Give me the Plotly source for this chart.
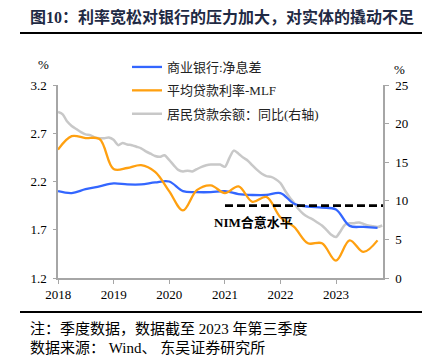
import calendar
import plotly.graph_objects as go

# ---------------- data ----------------
# quarter-end observations, 2017Q4 .. 2023Q3
quarter_labels = ["2017Q4",
                  "2018Q1", "2018Q2", "2018Q3", "2018Q4",
                  "2019Q1", "2019Q2", "2019Q3", "2019Q4",
                  "2020Q1", "2020Q2", "2020Q3", "2020Q4",
                  "2021Q1", "2021Q2", "2021Q3", "2021Q4",
                  "2022Q1", "2022Q2", "2022Q3", "2022Q4",
                  "2023Q1", "2023Q2", "2023Q3"]
nim = [2.10,
       2.08, 2.12, 2.15, 2.18,
       2.17, 2.17, 2.19, 2.20,
       2.10, 2.09, 2.09, 2.10,
       2.07, 2.06, 2.06, 2.08,
       1.97, 1.94, 1.93, 1.91,
       1.74, 1.73, 1.72]
loan_rate_minus_mlf = [2.53,
                       2.67, 2.65, 2.64, 2.33,
                       2.34, 2.37, 2.30, 2.10,
                       1.90, 2.11, 2.16, 2.08,
                       2.15, 1.99, 2.04, 1.83,
                       1.73, 1.56, 1.56, 1.38,
                       1.59, 1.47, 1.59]

# monthly household loan growth (yoy, %), Dec-2017 .. Oct-2023
household_loan_yoy = [21.5, 21.2, 20.3, 19.7, 19.3, 18.9, 18.6, 18.5, 18.2, 18.1,
                      18.1, 18.2, 17.9, 17.2, 17.5, 17.3, 17.2, 17.0, 16.8, 16.4,
                      16.1, 15.8, 15.7, 15.9, 15.3, 14.6, 14.0, 13.8, 13.9, 13.8,
                      14.1, 14.4, 14.6, 14.7, 14.7, 14.7, 14.4, 15.6, 16.5, 16.1,
                      15.6, 15.2, 14.6, 14.0, 13.5, 13.2, 13.1, 12.8, 12.3, 11.3,
                      10.5, 9.7, 8.9, 8.3, 7.9, 7.6, 7.2, 6.8, 6.2, 5.6,
                      5.3, 6.1, 6.9, 7.1, 7.1, 7.2, 7.0, 6.8, 6.7, 6.6,
                      6.8]

nim_comfort_level = 1.95
nim_comfort_span = ["2021-01-01", "2023-11-05"]

year_ticks = [2018, 2019, 2020, 2021, 2022, 2023]
left_ticks = [1.2, 1.7, 2.2, 2.7, 3.2]
right_ticks = [0, 5, 10, 15, 20, 25]


def month_end(y, m):
    return f"{y:04d}-{m:02d}-{calendar.monthrange(y, m)[1]:02d}"


months = []
y, m = 2017, 12
for _ in household_loan_yoy:
    months.append(month_end(y, m))
    m += 1
    if m > 12:
        m, y = 1, y + 1

quarters = []
for q in quarter_labels:
    yy, qq = int(q[:4]), int(q[-1])
    quarters.append(month_end(yy, qq * 3))

# ---------------- figure ----------------
SERIF = "Liberation Serif, Noto Sans CJK SC, serif"
CJK = "Liberation Serif, Noto Sans CJK SC, sans-serif"
AXIS_GREY = "#A6A6A6"

fig = go.Figure()

fig.add_trace(go.Scatter(
    x=months, y=household_loan_yoy, yaxis="y", mode="lines",
    name="居民贷款余额：同比(右轴)", legendgroup="c", legendrank=3,
    line=dict(color="#C8C8C8", width=2.5, shape="spline", smoothing=0.8),
))
fig.add_trace(go.Scatter(
    x=quarters, y=nim, yaxis="y2", mode="lines",
    name="商业银行:净息差", legendgroup="a", legendrank=1,
    line=dict(color="#3366FF", width=2.3, shape="spline", smoothing=1.0),
))
fig.add_trace(go.Scatter(
    x=quarters, y=loan_rate_minus_mlf, yaxis="y2", mode="lines",
    name="平均贷款利率-MLF", legendgroup="b", legendrank=2,
    line=dict(color="#FFA010", width=2.3, shape="spline", smoothing=1.0),
))
fig.add_trace(go.Scatter(
    x=nim_comfort_span, y=[nim_comfort_level] * 2, yaxis="y2", mode="lines",
    showlegend=False,
    line=dict(color="black", width=2.6, dash="8px,4px"),
))

fig.update_layout(
    width=432, height=357,
    margin=dict(l=58, r=49, t=85, b=79),
    paper_bgcolor="white", plot_bgcolor="white",
    title=dict(
        text="<b>图10：利率宽松对银行的压力加大，对实体的撬动不足</b>",
        x=30 / 432, xanchor="left", y=1 - 17 / 357, yanchor="middle",
        font=dict(family=CJK, size=16, color="#1F2A44"),
    ),
    xaxis=dict(
        type="date", range=["2017-12-31", "2023-11-05"],
        tickvals=[f"{yr}-01-01" for yr in year_ticks],
        ticktext=[str(yr) for yr in year_ticks],
        showline=True, linecolor=AXIS_GREY, linewidth=1.5,
        ticks="outside", ticklen=4, tickcolor=AXIS_GREY,
        showgrid=False, zeroline=False,
        tickfont=dict(family=SERIF, size=13, color="black"),
    ),
    yaxis=dict(
        side="right", range=[0, 25], tickvals=right_ticks,
        showline=True, linecolor=AXIS_GREY, linewidth=1.5,
        ticks="outside", ticklen=4, tickcolor=AXIS_GREY,
        showgrid=False, zeroline=False, ticklabelstandoff=4,
        tickfont=dict(family=SERIF, size=13, color="black"),
    ),
    yaxis2=dict(
        overlaying="y", side="left", range=[1.2, 3.2],
        tickvals=left_ticks, ticktext=[f"{v:.1f}" for v in left_ticks],
        showline=True, linecolor=AXIS_GREY, linewidth=1.5,
        ticks="outside", ticklen=3, tickcolor=AXIS_GREY,
        showgrid=False, zeroline=False, ticklabelstandoff=4,
        tickfont=dict(family=SERIF, size=13, color="black"),
    ),
    legend=dict(
        x=(127 - 58) / 325, y=(278 - 52) / 193, xanchor="left", yanchor="top",
        bgcolor="rgba(0,0,0,0)", traceorder="grouped", tracegroupgap=3.5,
        font=dict(family=CJK, size=13, color="#222222"),
    ),
    showlegend=True,
)

fig.add_annotation(text="%", xref="paper", yref="paper",
                   x=(43 - 58) / 325, y=(278 - 64) / 193, showarrow=False,
                   xanchor="center", yanchor="middle",
                   font=dict(family=SERIF, size=13, color="black"))
fig.add_annotation(text="%", xref="paper", yref="paper",
                   x=1 + (399 - 383) / 325, y=(278 - 70) / 193, showarrow=False,
                   xanchor="center", yanchor="middle",
                   font=dict(family=SERIF, size=13, color="black"))
fig.add_annotation(text="<b>NIM合意水平</b>", xref="x", yref="y2",
                   x="2020-10-05", y=1.78, showarrow=False,
                   xanchor="left", yanchor="middle",
                   font=dict(family=CJK, size=13, color="black"))

fig.add_annotation(text="注：季度数据，数据截至 2023 年第三季度", xref="paper", yref="paper",
                   x=(28 - 58) / 325, y=(278 - 328) / 193, showarrow=False,
                   xanchor="left", yanchor="middle",
                   font=dict(family=CJK, size=15, color="black"))
fig.add_annotation(text="数据来源： Wind、 东吴证券研究所", xref="paper", yref="paper",
                   x=(28 - 58) / 325, y=(278 - 347.5) / 193, showarrow=False,
                   xanchor="left", yanchor="middle",
                   font=dict(family=CJK, size=15, color="black"))

for ypix in (33, 312):
    fig.add_shape(type="line", xref="paper", yref="paper",
                  x0=(20 - 58) / 325, x1=(422 - 58) / 325,
                  y0=(278 - ypix) / 193, y1=(278 - ypix) / 193,
                  line=dict(color="black", width=2))

fig.write_html("out.html",
               config={"displayModeBar": False},
               post_script="document.body.style.margin='0';document.body.style.padding='0';")
